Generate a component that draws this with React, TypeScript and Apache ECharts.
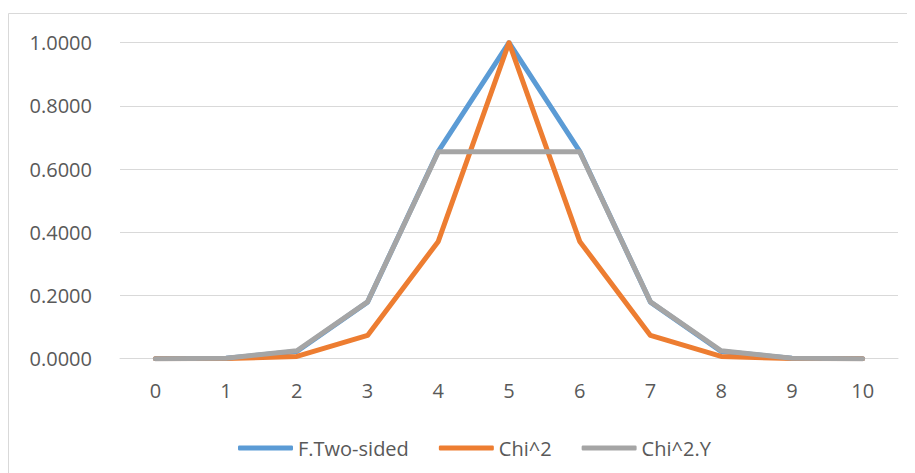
import React, { useEffect, useRef } from "react";
import * as echarts from "echarts";

const categories = ["0", "1", "2", "3", "4", "5", "6", "7", "8", "9", "10"];
const fTwoSided = [0.0000108, 0.0011, 0.023, 0.1789, 0.6563, 1.0, 0.6563, 0.1789, 0.023, 0.0011, 0.0000108];
const chi2 = [0.0000077, 0.000347, 0.0073, 0.0736, 0.3711, 1.0, 0.3711, 0.0736, 0.0073, 0.000347, 0.0000077];
const chi2Y = [0.000057, 0.00174, 0.0253, 0.1797, 0.6547, 0.6547, 0.6547, 0.1797, 0.0253, 0.00174, 0.000057];
const seriesNames = ["F.Two-sided", "Chi^2", "Chi^2.Y"];
const yTicks = { min: 0, max: 1, interval: 0.2 };

const FONT = "'Open Sans', 'Liberation Sans', sans-serif";
const COLORS = ["#5B9BD5", "#ED7D31", "#A5A5A5"];

export default function App() {
  const ref = useRef<HTMLDivElement>(null);
  useEffect(() => {
    if (!ref.current) return;
    const chart = echarts.init(ref.current, null, { renderer: "svg" });
    const dataSets = [fTwoSided, chi2, chi2Y];
    chart.setOption({
      animation: false,
      backgroundColor: "#ffffff",
      textStyle: { fontFamily: FONT },
      graphic: [
        {
          type: "rect",
          shape: { x: 0.5, y: 5.5, width: 960, height: 520 },
          style: { fill: "none", stroke: "#D9D9D9", lineWidth: 1 },
          silent: true,
          z: -1,
        },
      ],
      grid: { left: 112, right: 17, top: 34.7, bottom: 114.3, containLabel: false },
      legend: {
        left: 225,
        top: 425,
        itemWidth: 55,
        itemHeight: 5,
        itemGap: 30,
        icon: "roundRect",
        textStyle: { fontFamily: FONT, fontSize: 20, color: "#595959" },
        data: seriesNames,
      },
      xAxis: {
        type: "category",
        data: categories,
        boundaryGap: true,
        axisLine: { show: true, lineStyle: { color: "#D9D9D9", width: 1 } },
        axisTick: { show: false },
        axisLabel: { color: "#595959", fontSize: 20, fontFamily: FONT, margin: 22 },
        splitLine: { show: false },
      },
      yAxis: {
        type: "value",
        min: yTicks.min,
        max: yTicks.max,
        interval: yTicks.interval,
        axisLine: { show: false },
        axisTick: { show: false },
        axisLabel: {
          color: "#595959",
          fontSize: 20,
          fontFamily: FONT,
          margin: 28,
          formatter: (v: number) => v.toFixed(4),
        },
        splitLine: { show: true, lineStyle: { color: "#D9D9D9", width: 1 } },
      },
      series: seriesNames.map((name, i) => ({
        name,
        type: "line",
        data: dataSets[i],
        symbol: "none",
        showSymbol: false,
        color: COLORS[i],
        lineStyle: { color: COLORS[i], width: 5, cap: "round", join: "round" },
        itemStyle: { color: COLORS[i] },
      })),
    });
    return () => chart.dispose();
  }, []);
  return <div ref={ref} style={{ width: 907, height: 465 }} />;
}
